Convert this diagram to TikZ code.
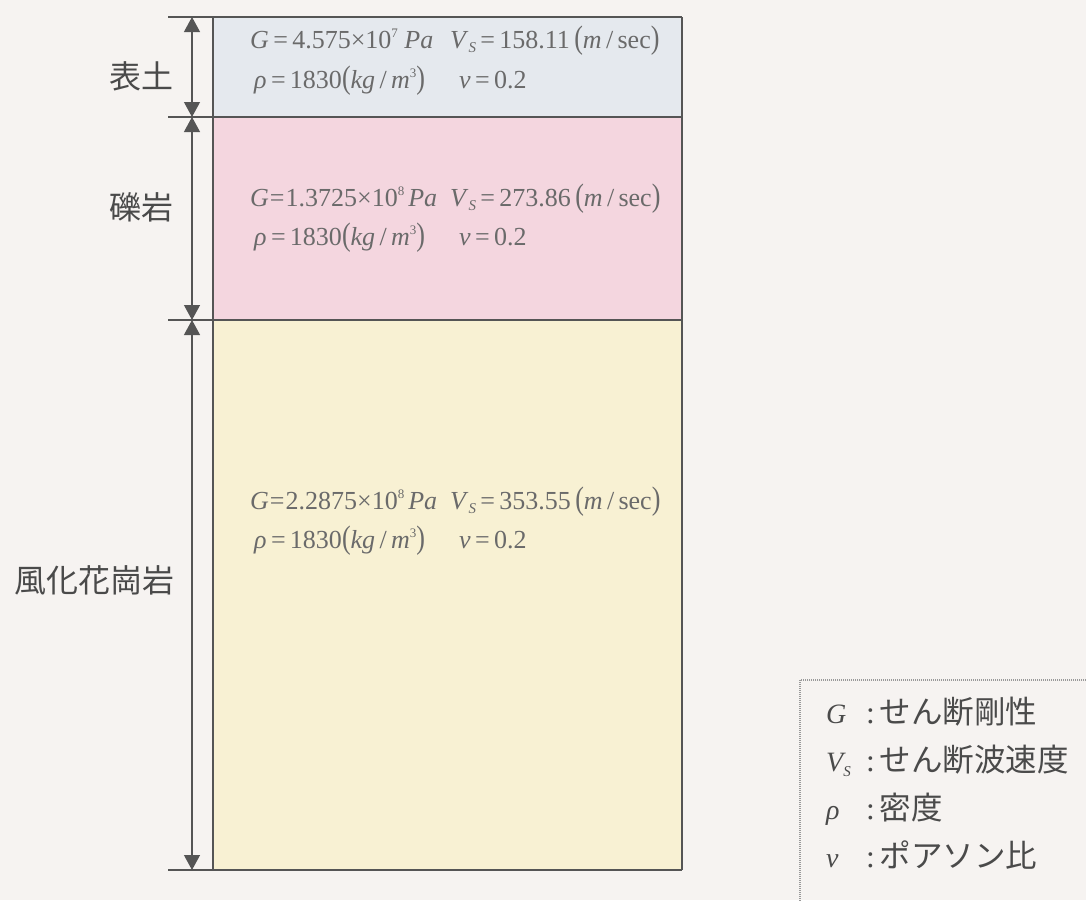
\documentclass[tikz,border=0pt]{standalone}
\usepackage{fontspec}
\setmainfont{Liberation Serif}
\newfontfamily\cjk{Noto Sans CJK JP}
\usetikzlibrary{arrows.meta}
\definecolor{bgc}{HTML}{F6F3F1}
\definecolor{layA}{HTML}{E5E9EE}
\definecolor{layB}{HTML}{F4D6DF}
\definecolor{layC}{HTML}{F8F1D3}
\definecolor{linec}{HTML}{555555}
\definecolor{txtc}{HTML}{6A6A6A}
\definecolor{labc}{HTML}{4A4A4A}
\newcommand{\tpar}[1]{\scalebox{1}[1.25]{#1}}
\newcommand{\mysub}[1]{\raisebox{-0.4ex}{\fontsize{15}{15}\selectfont\itshape #1}}
\newcommand{\mysup}[1]{\raisebox{0.85ex}{\fontsize{13}{13}\selectfont #1}}
\tikzset{
  param/.style={anchor=base west, inner sep=0pt, text=txtc, font=\fontsize{26}{26}\selectfont},
  laylabel/.style={inner sep=0pt, text=labc, font=\cjk\fontsize{32}{32}\selectfont},
  legsym/.style={anchor=base west, inner sep=0pt, text=labc, font=\fontsize{28}{28}\selectfont\itshape},
  legtxt/.style={anchor=base west, inner sep=0pt, text=labc, font=\cjk\fontsize{31.5}{31.5}\selectfont},
  bound/.style={draw=linec, line width=1.5pt},
  dimarrow/.style={draw=linec, line width=1.2pt, {Triangle[length=15pt,width=16pt]}-{Triangle[length=15pt,width=16pt]}},
}
\begin{document}
\begin{tikzpicture}[x=1pt,y=-1pt]
\fill[bgc] (0,0) rectangle (1086,900);
\useasboundingbox (0,0) rectangle (1086,900);
% layers
\fill[layA] (213,17) rectangle (682,117);
\fill[layB] (213,117) rectangle (682,320);
\fill[layC] (213,320) rectangle (682,870);
% boundaries
\coordinate (h0a) at (168,17);  \coordinate (h0b) at (682,17);
\coordinate (h1a) at (168,117); \coordinate (h1b) at (682,117);
\coordinate (h2a) at (168,320); \coordinate (h2b) at (682,320);
\coordinate (h3a) at (168,870); \coordinate (h3b) at (682,870);
\draw[bound] (h0a) -- (h0b);
\draw[bound] (h1a) -- (h1b);
\draw[bound] (h2a) -- (h2b);
\draw[bound] (h3a) -- (h3b);
\draw[bound] (213,17) -- (213,870);
\draw[bound] (682,17) -- (682,870);
% dimension arrows
\coordinate (d0) at (192,17);
\coordinate (d1) at (192,117);
\coordinate (d2) at (192,320);
\coordinate (d3) at (192,870);
\draw[dimarrow] (d0) -- (d1);
\draw[dimarrow] (d1) -- (d2);
\draw[dimarrow] (d2) -- (d3);
% labels
\node[laylabel] (la) at (141,76) {表土};
\node[laylabel] (lb) at (141,207) {礫岩};
\node[laylabel] (lc) at (94,580) {風化花崗岩};
% layer 1 text
\node[param] (g1) at (250,48) {\textit{G}\,=\,4.575×10\mysup{7} \textit{Pa}};
\node[param] (v1) at (450,48) {\textit{V}\mysub{S}\,=\,158.11\,\tpar{(}\textit{m}\,/\,sec\tpar{)}};
\node[param] (r1) at (254,88) {\textit{ρ}\,=\,1830\tpar{(}\textit{kg}\,/\,\textit{m}\mysup{3}\tpar{)}};
\node[param] (n1) at (459,88) {\textit{ν}\,=\,0.2};
% layer 2 text
\node[param] (g2) at (250,206) {\textit{G}\kern1pt=\kern1pt1.3725×10\mysup{8}\kern4pt\textit{Pa}};
\node[param] (v2) at (450,206) {\textit{V}\mysub{S}\,=\,273.86\,\tpar{(}\textit{m}\,/\,sec\tpar{)}};
\node[param] (r2) at (254,245) {\textit{ρ}\,=\,1830\tpar{(}\textit{kg}\,/\,\textit{m}\mysup{3}\tpar{)}};
\node[param] (n2) at (459,245) {\textit{ν}\,=\,0.2};
% layer 3 text
\node[param] (g3) at (250,509) {\textit{G}\kern1pt=\kern1pt2.2875×10\mysup{8}\kern4pt\textit{Pa}};
\node[param] (v3) at (450,509) {\textit{V}\mysub{S}\,=\,353.55\,\tpar{(}\textit{m}\,/\,sec\tpar{)}};
\node[param] (r3) at (254,548) {\textit{ρ}\,=\,1830\tpar{(}\textit{kg}\,/\,\textit{m}\mysup{3}\tpar{)}};
\node[param] (n3) at (459,548) {\textit{ν}\,=\,0.2};
% legend
\draw[draw=gray!80, line width=1.2pt, dash pattern=on 1pt off 1pt] (800,680) rectangle (1110,930);
\node[legsym] (s1) at (826,723) {G};
\node[legsym] (s2) at (826,771) {V\mysub{S}};
\node[legsym] (s3) at (826,819) {ρ};
\node[legsym] (s4) at (826,867) {ν};
\node[legtxt] (t1) at (866,723) {{\rmfamily :}\hspace{5pt}せん断剛性};
\node[legtxt] (t2) at (866,771) {{\rmfamily :}\hspace{5pt}せん断波速度};
\node[legtxt] (t3) at (866,819) {{\rmfamily :}\hspace{5pt}密度};
\node[legtxt] (t4) at (866,867) {{\rmfamily :}\hspace{5pt}ポアソン比};
\end{tikzpicture}
\end{document}
